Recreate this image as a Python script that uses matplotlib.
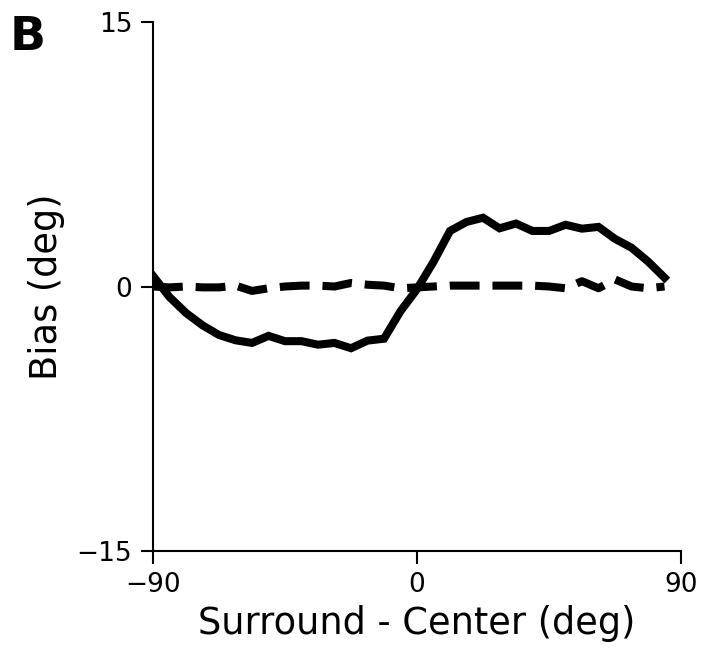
import numpy as np
import matplotlib
matplotlib.use("Agg")
import matplotlib.pyplot as plt

# Data
diff_deg = [-90 + 5.625 * i for i in range(32)]
bias_solid = [0.6, -0.6, -1.5, -2.2, -2.75, -3.05, -3.2, -2.8, -3.1, -3.1, -3.3, -3.2,
              -3.5, -3.07, -2.96, -1.4, -0.15, 1.4, 3.15, 3.66, 3.9, 3.3, 3.57, 3.15,
              3.15, 3.5, 3.28, 3.38, 2.7, 2.2, 1.42, 0.5]
bias_dashed = [0.0, -0.05, 0.0, -0.05, -0.05, 0.05, -0.25, -0.1, 0.0, 0.05, 0.05, 0.0,
               0.2, 0.1, 0.05, -0.1, -0.05, 0.0, 0.05, 0.05, 0.05, 0.05, 0.05, 0.05,
               0.0, -0.1, 0.3, -0.1, 0.4, 0.0, -0.1, 0.0]
xticks = [-90, 0, 90]
yticks = [-15, 0, 15]
ytick_labels = ["\u221215", "0", "15"]
xtick_labels = ["\u221290", "0", "90"]

fig = plt.figure(figsize=(7.14, 6.49), dpi=100)
ax = fig.add_axes([0.2143, 0.1510, 0.7395, 0.8151])

ax.plot(diff_deg, bias_solid, color="black", lw=5.8, solid_joinstyle="miter")
ax.plot(diff_deg, bias_dashed, color="black", lw=5.8, ls="--")

ax.set_xlim(-90, 90)
ax.set_ylim(-15, 15)
ax.set_xticks(xticks)
ax.set_xticklabels(xtick_labels)
ax.set_yticks(yticks)
ax.set_yticklabels(ytick_labels)
ax.spines["top"].set_visible(False)
ax.spines["right"].set_visible(False)
for s in ("left", "bottom"):
    ax.spines[s].set_linewidth(1.5)
ax.tick_params(axis="both", labelsize=19, length=9, width=1.5, direction="out", pad=6)
ax.set_xlabel("Surround - Center (deg)", fontsize=26.5, labelpad=5)
ax.set_ylabel("Bias (deg)", fontsize=26.5, labelpad=8)

fig.text(0.013, 0.923, "B", fontsize=34, fontweight="bold")

fig.savefig("out.png", dpi=100)
